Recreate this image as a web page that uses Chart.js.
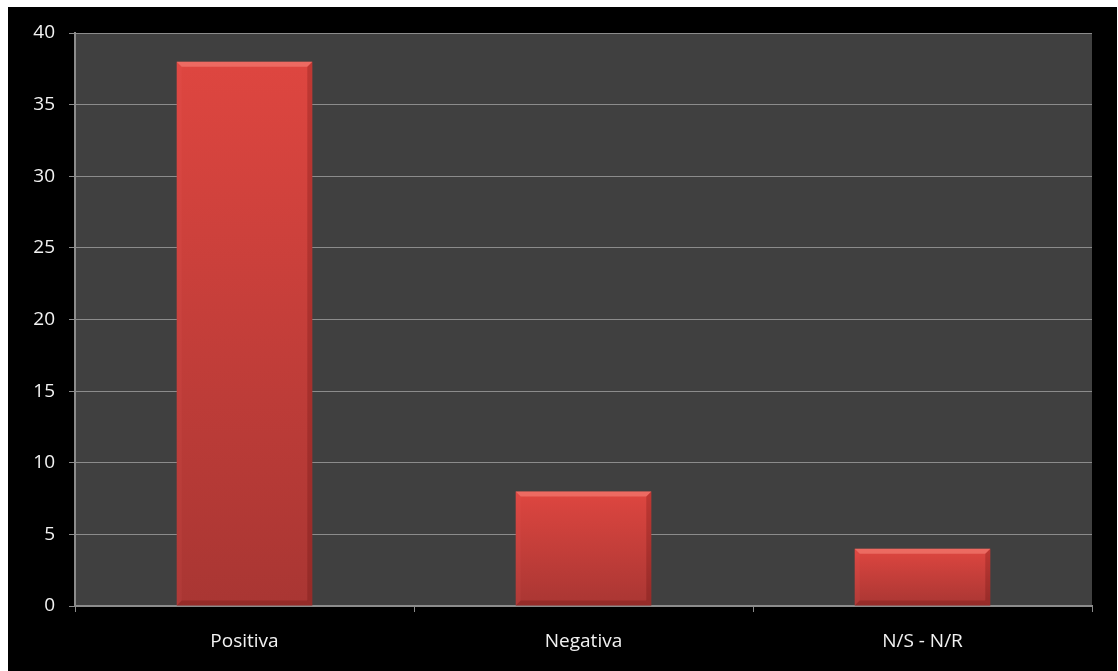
<!DOCTYPE html>
<html>
<head>
<meta charset="utf-8">
<script src="https://cdn.jsdelivr.net/npm/chart.js@4"></script>
<style>
    html, body { margin: 0; padding: 0; background: #ffffff; }
    #wrap { position: absolute; left: 8px; top: 7px; width: 1109px; height: 664px; background: #000000; }
</style>
</head>
<body>
<div id="wrap"><canvas id="opinionChart" width="1109" height="664"></canvas></div>
<script>
// Chart data
const categories = ['Positiva', 'Negativa', 'N/S - N/R'];
const counts = [38, 8, 4];
const yTicks = [0, 5, 10, 15, 20, 25, 30, 35, 40];

// Dark plot background behind the bars
const plotBackground = {
    id: 'plotBackground',
    beforeDraw(chart) {
        const { ctx, chartArea } = chart;
        ctx.save();
        ctx.fillStyle = '#404040';
        ctx.fillRect(chartArea.left, chartArea.top, chartArea.right - chartArea.left, chartArea.bottom - chartArea.top);
        ctx.restore();
    }
};

// Soft bevel on each bar, taken from the bar elements
const barBevel = {
    id: 'barBevel',
    afterDatasetsDraw(chart) {
        const ctx = chart.ctx;
        chart.getDatasetMeta(0).data.forEach(bar => {
            const left = bar.x - bar.width / 2;
            const right = bar.x + bar.width / 2;
            const top = bar.y;
            const bottom = bar.base;
            const b = 5;
            ctx.save();
            ctx.fillStyle = 'rgba(255,150,140,0.45)';
            ctx.beginPath();
            ctx.moveTo(left, top); ctx.lineTo(right, top);
            ctx.lineTo(right - b, top + b); ctx.lineTo(left + b, top + b);
            ctx.closePath(); ctx.fill();
            ctx.fillStyle = 'rgba(255,120,110,0.08)';
            ctx.beginPath();
            ctx.moveTo(left, top); ctx.lineTo(left + b, top + b);
            ctx.lineTo(left + b, bottom - b); ctx.lineTo(left, bottom);
            ctx.closePath(); ctx.fill();
            ctx.fillStyle = 'rgba(70,0,0,0.2)';
            ctx.beginPath();
            ctx.moveTo(right, top); ctx.lineTo(right - b, top + b);
            ctx.lineTo(right - b, bottom - b); ctx.lineTo(right, bottom);
            ctx.closePath(); ctx.fill();
            ctx.fillStyle = 'rgba(70,0,0,0.2)';
            ctx.beginPath();
            ctx.moveTo(left, bottom); ctx.lineTo(left + b, bottom - b);
            ctx.lineTo(right - b, bottom - b); ctx.lineTo(right, bottom);
            ctx.closePath(); ctx.fill();
            ctx.restore();
        });
    }
};

// Gradient per bar, from its own top to the baseline
function barGradient(context) {
    const chart = context.chart;
    const yScale = chart.scales.y;
    if (!chart.chartArea || !yScale || context.raw === undefined) return '#d8433f';
    const top = yScale.getPixelForValue(context.raw);
    const base = yScale.getPixelForValue(0);
    const g = chart.ctx.createLinearGradient(0, top, 0, base);
    g.addColorStop(0, '#de4640');
    g.addColorStop(1, '#a93633');
    return g;
}

const ctx = document.getElementById('opinionChart').getContext('2d');

new Chart(ctx, {
    type: 'bar',
    data: {
        labels: categories,
        datasets: [{
            data: counts,
            backgroundColor: barGradient,
            borderWidth: 0,
            categoryPercentage: 1.0,
            barPercentage: 0.4
        }]
    },
    options: {
        responsive: false,
        animation: false,
        layout: { padding: { top: 26, right: 25, left: 0, bottom: 0 } },
        plugins: {
            legend: { display: false },
            tooltip: { enabled: false }
        },
        scales: {
            x: {
                grid: {
                    offset: true,
                    drawOnChartArea: false,
                    drawTicks: true,
                    tickLength: 6,
                    color: '#8c8c8c'
                },
                border: { color: '#8c8c8c', width: 2 },
                ticks: {
                    color: '#f2f2f2',
                    font: { family: 'Open Sans', size: 19 },
                    padding: 18
                },
                afterFit(scale) { scale.height = 65; }
            },
            y: {
                min: 0,
                max: 40,
                afterBuildTicks(scale) { scale.ticks = yTicks.map(v => ({ value: v })); },
                grid: {
                    color: '#8c8c8c',
                    tickLength: 6,
                    lineWidth: 1
                },
                border: { color: '#8c8c8c', width: 2 },
                ticks: {
                    color: '#f2f2f2',
                    font: { family: 'Open Sans', size: 19 },
                    padding: 14
                },
                afterFit(scale) { scale.width = 67; }
            }
        }
    },
    plugins: [plotBackground, barBevel]
});
</script>
</body>
</html>
